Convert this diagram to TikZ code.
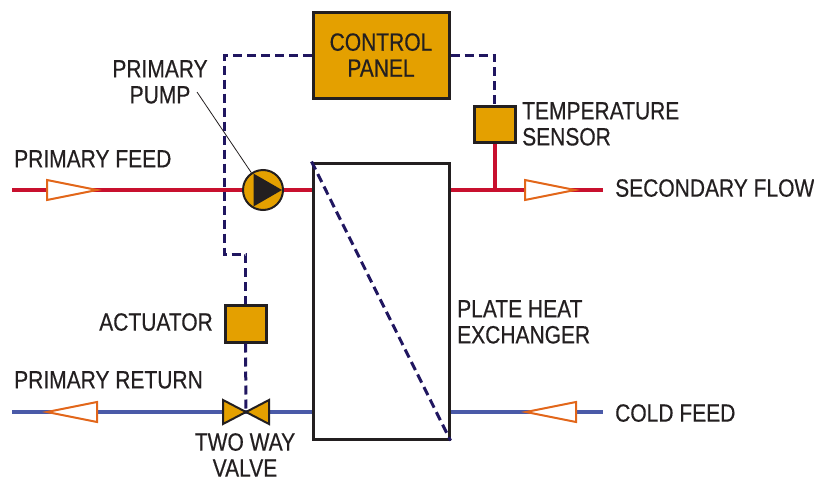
\documentclass[tikz,border=0pt]{standalone}
\usepackage{fontspec}
\setmainfont{Liberation Sans}[FakeStretch=0.84,FakeBold=0.4]
\definecolor{ambre}{RGB}{228,160,0}
\definecolor{chaud}{RGB}{200,16,46}
\definecolor{froid}{RGB}{74,90,168}
\definecolor{marine}{RGB}{32,22,96}
\definecolor{fleche}{RGB}{226,102,26}
\definecolor{encre}{RGB}{35,31,32}
\tikzset{
  boite/.style={draw=encre,line width=3pt,fill=ambre,inner sep=0pt},
  chaudpipe/.style={color=chaud,line width=4pt},
  froidpipe/.style={color=froid,line width=4pt},
  ctrl/.style={color=marine,line width=3pt,dash pattern=on 9pt off 5pt},
  flowtri/.style={draw=fleche,line width=2pt,fill=white,line join=miter},
  lbl/.style={text=encre,inner sep=0pt,font=\fontsize{25}{26}\selectfont},
}
\begin{document}
\begin{tikzpicture}[x=1pt,y=-1pt] % 1 pt = 1 pixel, y vers le bas
\useasboundingbox (0,0) rectangle (814,482);
% les appareils
\node[boite,minimum width=136pt,minimum height=86pt,lbl,align=center] (panel) at (381,55) {CONTROL\\PANEL};
\node[boite,minimum width=41pt,minimum height=36pt] (sensor) at (494.5,124) {};
\node[boite,minimum width=41pt,minimum height=37pt] (actuator) at (245.5,323.5) {};
\node[draw=encre,line width=3pt,minimum width=136pt,minimum height=276pt] (hx) at (381,301) {};
\coordinate (valve) at (246,412);
\coordinate (feedin) at (12,190); % entree primaire
\coordinate (flowout) at (603,190); % sortie secondaire
\coordinate (retout) at (12,412); % retour primaire
\coordinate (coldin) at (603,412); % eau froide
% les tuyaux
\draw[chaudpipe] (feedin) -- (feedin -| hx.west);
\draw[chaudpipe] (hx.east |- flowout) -- (flowout);
\draw[chaudpipe] (sensor.south) -- (sensor.south |- flowout);
\draw[froidpipe] (retout) -- (retout -| hx.west);
\draw[froidpipe] (hx.east |- coldin) -- (coldin);
% les fleches de sens
\draw[flowtri] (47,180) -- (97,190) -- (47,200) -- cycle;
\draw[flowtri] (525,180) -- (575,190) -- (525,200) -- cycle;
\draw[flowtri] (97,402) -- (47,412) -- (97,422) -- cycle;
\draw[flowtri] (576,402) -- (526,412) -- (576,422) -- cycle;
% la commande
\coordinate (bendA) at (224,254);
\draw[ctrl] (panel.west) -| (bendA) -| (actuator.north);
\draw[ctrl] (panel.east) -| (sensor.north);
\draw[ctrl] (actuator.south) -- (valve);
\draw[ctrl] (hx.north west) -- (hx.south east);
% la pompe
\node[draw=encre,line width=2pt,fill=ambre,circle,minimum size=40pt,inner sep=0pt] (pump) at (263,190) {};
\fill[color=encre] (pump.center) ++(0:19) -- ++(150:32.9) -- ++(270:32.9) -- cycle;
% la vanne
\draw[draw=encre,line width=2pt,fill=ambre,line join=miter] (valve) -- (223,400) -- (223,424) -- cycle;
\draw[draw=encre,line width=2pt,fill=ambre,line join=miter] (valve) -- (269,400) -- (269,424) -- cycle;
% les textes
\node[lbl,anchor=north west] (feedlbl) at (14,150) {PRIMARY FEED};
\node[lbl,anchor=north west] (returnlbl) at (14,371) {PRIMARY RETURN};
\node[lbl,anchor=north west] (flowlbl) at (615,179) {SECONDARY FLOW};
\node[lbl,anchor=north west] (coldlbl) at (615,404) {COLD FEED};
\node[lbl,anchor=north west,align=left] (sensorlbl) at (522,102) {TEMPERATURE\\SENSOR};
\node[lbl,anchor=north west,align=left] (hxlbl) at (457,300) {PLATE HEAT\\EXCHANGER};
\node[lbl,anchor=north east] (actlbl) at (213,313) {ACTUATOR};
\node[lbl,anchor=north,align=center] (pumplbl) at (160,60) {PRIMARY\\PUMP};
\node[lbl,anchor=north,align=center] (valvelbl) at (245,433) {TWO WAY\\VALVE};
\coordinate (pumptag) at (197,92);
\draw[color=encre,line width=0.8pt] (pumptag) -- (pump);
\end{tikzpicture}
\end{document}
